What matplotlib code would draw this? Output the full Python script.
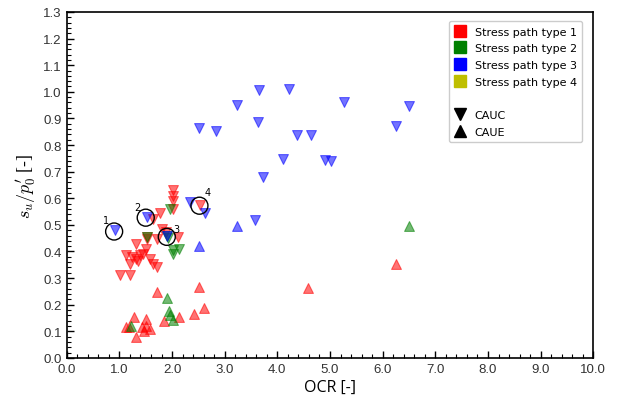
import matplotlib
matplotlib.use("Agg")
import matplotlib.pyplot as plt
from matplotlib.lines import Line2D
from matplotlib.ticker import MultipleLocator, FormatStrFormatter

plt.rcParams['mathtext.fontset'] = 'cm'

# ---- data: (OCR, su/p0') ----
t1_cauc_x = [2.02, 2.02, 2.02, 2.02, 1.77, 1.63, 1.80, 2.12, 1.71, 1.52, 1.52, 1.32, 1.50,
             1.13, 1.23, 1.32, 1.39, 1.20, 1.58, 1.64, 1.72, 1.02, 1.21, 2.53, 1.45, 1.35, 1.88]
t1_cauc_y = [0.632, 0.610, 0.589, 0.560, 0.544, 0.523, 0.485, 0.454, 0.447, 0.454, 0.445, 0.429, 0.410,
             0.385, 0.378, 0.372, 0.385, 0.353, 0.372, 0.353, 0.341, 0.312, 0.312, 0.573, 0.390, 0.365, 0.475]
t1_caue_x = [6.25, 4.59, 1.71, 2.52, 2.61, 2.41, 2.13, 1.85, 1.27, 1.13, 1.51, 1.51, 1.42,
             1.59, 1.32, 1.47, 1.19]
t1_caue_y = [0.353, 0.264, 0.247, 0.266, 0.188, 0.165, 0.153, 0.140, 0.153, 0.115, 0.146, 0.120, 0.115,
             0.109, 0.080, 0.100, 0.118]
t2_cauc_x = [1.96, 1.90, 1.93, 2.02, 2.13, 2.02, 1.52]
t2_cauc_y = [0.560, 0.460, 0.450, 0.407, 0.410, 0.391, 0.455]
t2_caue_x = [6.50, 1.91, 1.94, 1.96, 2.02, 1.22]
t2_caue_y = [0.495, 0.226, 0.175, 0.160, 0.144, 0.121]
t3_cauc_x = [3.66, 4.22, 3.24, 5.27, 6.50, 2.51, 2.83, 3.64, 6.25, 4.37, 4.63, 4.11, 4.90, 5.01,
             3.73, 2.35, 2.62, 3.57, 0.91, 1.52, 1.90]
t3_cauc_y = [1.007, 1.010, 0.951, 0.961, 0.946, 0.865, 0.852, 0.885, 0.871, 0.837, 0.837, 0.746, 0.743, 0.741,
             0.679, 0.585, 0.544, 0.519, 0.481, 0.531, 0.460]
t3_caue_x = [3.24, 2.51]
t3_caue_y = [0.494, 0.421]

circled_x = [0.90, 1.50, 1.90, 2.52]
circled_y = [0.475, 0.527, 0.455, 0.572]
circled_labels = ["1", "2", "3", "4"]
label_offsets = [(-6, 8), (-6, 8), (7, 6), (6, 10)]

legend_types = ["Stress path type 1", "Stress path type 2", "Stress path type 3", "Stress path type 4"]
type_colors = ["red", "green", "blue", "y"]

fig = plt.figure(figsize=(6.18, 4.06), dpi=100)
ax = fig.add_axes([0.108, 0.116, 0.852, 0.852])

ms = 50
alpha = 0.55
for xs, ys, c, m in [(t1_cauc_x, t1_cauc_y, "red", "v"), (t1_caue_x, t1_caue_y, "red", "^"),
                     (t2_cauc_x, t2_cauc_y, "green", "v"), (t2_caue_x, t2_caue_y, "green", "^"),
                     (t3_cauc_x, t3_cauc_y, "blue", "v"), (t3_caue_x, t3_caue_y, "blue", "^")]:
    ax.scatter(xs, ys, s=ms, marker=m, color=c, alpha=alpha, linewidths=0.8, zorder=3)

ax.scatter(circled_x, circled_y, s=150, marker="o", facecolors="none", edgecolors="black",
           linewidths=1.0, zorder=4)
for x, y, lab, off in zip(circled_x, circled_y, circled_labels, label_offsets):
    ax.annotate(lab, (x, y), xytext=off, textcoords="offset points", fontsize=7,
                ha="center", va="center", zorder=5)

ax.set_xlim(0, 10)
ax.set_ylim(0, 1.3)
ax.xaxis.set_major_locator(MultipleLocator(1.0))
ax.xaxis.set_minor_locator(MultipleLocator(0.2))
ax.yaxis.set_major_locator(MultipleLocator(0.1))
ax.yaxis.set_minor_locator(MultipleLocator(0.02))
ax.xaxis.set_major_formatter(FormatStrFormatter("%.1f"))
ax.yaxis.set_major_formatter(FormatStrFormatter("%.1f"))
ax.tick_params(which="both", direction="in", top=False, right=False)
ax.tick_params(which="major", length=5, width=1.0)
ax.tick_params(which="minor", length=3, width=0.8)
for lbl in ax.get_xticklabels() + ax.get_yticklabels():
    lbl.set_fontfamily("Liberation Sans")
    lbl.set_fontsize(9.5)
    lbl.set_color("#333333")
for sp in ax.spines.values():
    sp.set_linewidth(1.2)

ax.set_xlabel("OCR [-]", fontfamily="Open Sans", fontsize=11.5, labelpad=3)
ax.set_ylabel(r"$s_u/p_0'$ [-]", fontfamily="Liberation Serif", fontsize=13, labelpad=4)

handles = [Line2D([], [], marker="s", linestyle="none", color=c, markersize=8.5) for c in type_colors]
handles.append(Line2D([], [], linestyle="none"))
handles.append(Line2D([], [], marker="v", linestyle="none", color="black", markersize=9))
handles.append(Line2D([], [], marker="^", linestyle="none", color="black", markersize=9))
labels = legend_types + ["", "CAUC", "CAUE"]
leg = ax.legend(handles, labels, loc="upper right", fontsize=8, labelspacing=0.6,
                handlelength=1.0, handletextpad=0.8, borderpad=0.5, framealpha=1,
                bbox_to_anchor=(0.99, 0.99))
leg.get_frame().set_edgecolor("#cccccc")

fig.savefig("out.png", dpi=100)
